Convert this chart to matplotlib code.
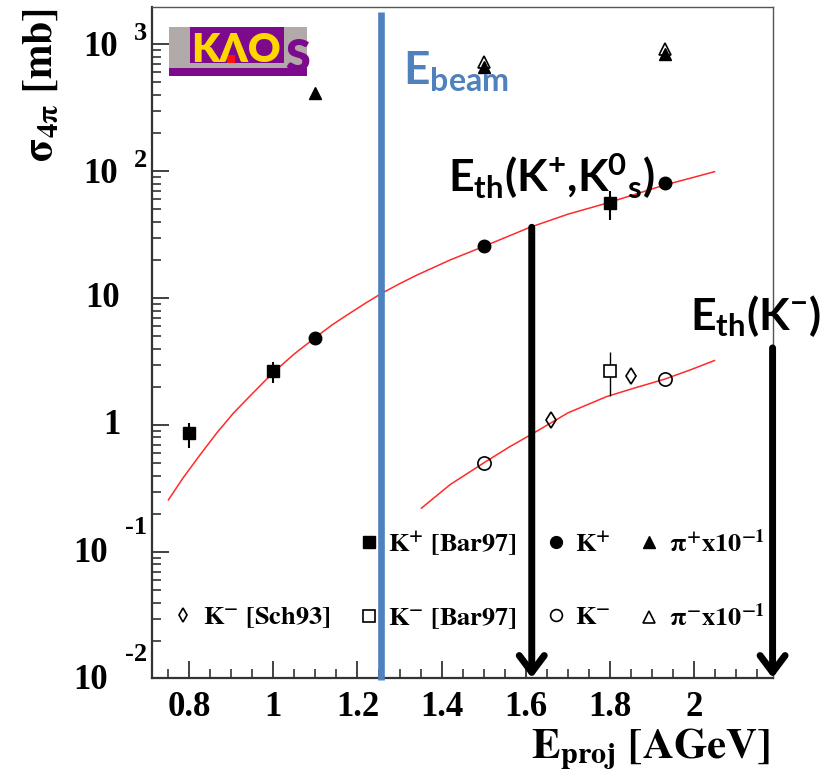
import matplotlib
matplotlib.use("Agg")
import matplotlib.pyplot as plt
from matplotlib.lines import Line2D
from matplotlib.patches import Rectangle
from matplotlib.font_manager import FontProperties
from matplotlib.ticker import MultipleLocator, LogLocator, NullFormatter

plt.rcParams["mathtext.fontset"] = "custom"
plt.rcParams["mathtext.rm"] = "Lato"
plt.rcParams["mathtext.bf"] = "Lato:bold"
plt.rcParams["mathtext.it"] = "Lato:italic"

# ---- measured cross sections [mb] vs projectile energy [AGeV] ----
kp_x = [1.1, 1.5, 1.93]
kp_y = [4.84, 25.9, 80.4]

kp_bar_x = [0.8, 1.0, 1.8]
kp_bar_y = [0.865, 2.69, 56.0]
kp_bar_lo = [0.66, 2.16, 41.4]
kp_bar_hi = [1.04, 3.17, 70.3]

km_x = [1.5, 1.93]
km_y = [0.50, 2.33]

km_sch_x = [1.66, 1.85]
km_sch_y = [1.09, 2.42]

km_bar_x = [1.8]
km_bar_y = [2.69]
km_bar_lo = [1.71]
km_bar_hi = [3.76]

pip_x = [1.1, 1.5, 1.93]
pip_y = [416, 667, 839]

pim_x = [1.5, 1.93]
pim_y = [730, 914]

# ---- fitted excitation functions ----
fit_kp_x = [0.751, 0.786, 0.826, 0.866, 0.905, 0.945, 1.0, 1.05, 1.103, 1.14,
            1.182, 1.22, 1.257, 1.30, 1.341, 1.42, 1.499, 1.610, 1.70, 1.792,
            1.86, 1.929, 1.99, 2.048]
fit_kp_y = [0.258, 0.385, 0.583, 0.869, 1.24, 1.70, 2.60, 3.64, 4.99, 6.17,
            7.62, 9.18, 10.9, 13.0, 15.2, 20.0, 25.5, 36.2, 45.9, 56.0,
            65.9, 77.8, 88.0, 99.2]

fit_km_x = [1.352, 1.42, 1.499, 1.56, 1.618, 1.70, 1.792, 1.86, 1.929, 1.99, 2.048]
fit_km_y = [0.222, 0.34, 0.502, 0.671, 0.865, 1.25, 1.68, 1.97, 2.30, 2.72, 3.23]

# ---- energy markers ----
e_beam = 1.257
e_th_kplus = 1.614
e_th_kplus_top = 36.2
e_th_kminus = 2.186
e_th_kminus_top = 4.06

x_ticks = [0.8, 1.0, 1.2, 1.4, 1.6, 1.8, 2.0]
x_tick_labels = ["0.8", "1", "1.2", "1.4", "1.6", "1.8", "2"]
y_exponents = [-2, -1, 0, 1, 2, 3]

W, H = 825, 780
fig = plt.figure(figsize=(W / 100, H / 100), dpi=100)
L, R, T, B = 152, 773, 7, 678
ax = fig.add_axes([L / W, 1 - B / H, (R - L) / W, (B - T) / H])

ax.set_yscale("log")
ax.set_xlim(0.712, 2.187)
ax.set_ylim(0.0102, 1966)

# frame
for s in ("left", "bottom"):
    ax.spines[s].set_color("#333333")
    ax.spines[s].set_linewidth(1.6)
for s in ("top", "right"):
    ax.spines[s].set_color("#555555")
    ax.spines[s].set_linewidth(1.0)

ax.xaxis.set_major_locator(MultipleLocator(0.2))
ax.xaxis.set_minor_locator(MultipleLocator(0.05))
ax.yaxis.set_major_locator(LogLocator(base=10, numticks=20))
ax.yaxis.set_minor_locator(LogLocator(base=10, subs=range(2, 10), numticks=20))
ax.yaxis.set_minor_formatter(NullFormatter())
ax.tick_params(which="both", direction="in", top=False, right=False,
               labelleft=False, labelbottom=False, color="#333333")
ax.tick_params(which="major", length=12, width=1.3)
ax.tick_params(which="minor", length=6.5, width=1.2)

serif = dict(family="Liberation Serif", weight="bold", color="black")

for v, lab in zip(x_ticks, x_tick_labels):
    ax.annotate(lab, xy=(v, 0), xycoords=("data", "axes fraction"),
                xytext=(0, -30), textcoords="offset pixels",
                ha="center", va="center", fontsize=25, **serif)

for e in y_exponents:
    v = 10.0 ** e
    if e == 0:
        ax.annotate("1", xy=(0, v), xycoords=("axes fraction", "data"),
                    xytext=(-32, 0), textcoords="offset pixels",
                    ha="right", va="center", fontsize=25, **serif)
    elif e == 1:
        ax.annotate("10", xy=(0, v), xycoords=("axes fraction", "data"),
                    xytext=(-32, 0), textcoords="offset pixels",
                    ha="right", va="center", fontsize=25, **serif)
    else:
        if e > 0:
            base_off, exp_off = (-34, -3), (-5, 11)
        else:
            base_off, exp_off = (-44, -1), (-5, 25)
        ax.annotate("10", xy=(0, v), xycoords=("axes fraction", "data"),
                    xytext=base_off, textcoords="offset pixels",
                    ha="right", va="center", fontsize=25, **serif)
        ax.annotate("%d" % e, xy=(0, v), xycoords=("axes fraction", "data"),
                    xytext=exp_off, textcoords="offset pixels",
                    ha="right", va="center", fontsize=19, **serif)

# fit curves
red = "#ff2a2a"
ax.plot(fit_kp_x, fit_kp_y, color=red, lw=1.1, zorder=2)
ax.plot(fit_km_x, fit_km_y, color=red, lw=1.1, zorder=2)

# data points
def asym(y, lo, hi):
    return [[a - b for a, b in zip(y, lo)], [c - a for a, c in zip(y, hi)]]

ax.errorbar(kp_bar_x, kp_bar_y, yerr=asym(kp_bar_y, kp_bar_lo, kp_bar_hi),
            fmt="s", ms=8.5, color="black", ecolor="black", elinewidth=1.5,
            capsize=0, zorder=4)
ax.errorbar(km_bar_x, km_bar_y, yerr=asym(km_bar_y, km_bar_lo, km_bar_hi),
            fmt="s", ms=9, mfc="white", mec="black", mew=1.2, ecolor="black",
            elinewidth=1.0, capsize=0, zorder=4)
ax.plot(kp_x, kp_y, "o", ms=9, color="black", zorder=4)
ax.plot(km_x, km_y, "o", ms=9.5, mfc="none", mec="black", mew=1.2, zorder=4)
ax.plot(km_sch_x, km_sch_y, "d", ms=8, mfc="none", mec="black", mew=1.2, zorder=4)
ax.plot(pim_x, pim_y, "^", ms=9, mfc="none", mec="black", mew=1.2, zorder=4)
ax.plot(pip_x, pip_y, "^", ms=9, color="black", zorder=5)

# legend
blank = Line2D([], [], ls="none", marker="None", label=" ")
h_sch = Line2D([], [], ls="none", marker="d", ms=7, mfc="none", mec="black", mew=1.2,
               label=r"$\mathbf{K^{-}\ [Sch93]}$")
h_kpb = Line2D([], [], ls="none", marker="s", ms=8, color="black",
               label=r"$\mathbf{K^{+}\ [Bar97]}$")
h_kmb = Line2D([], [], ls="none", marker="s", ms=8, mfc="white", mec="black", mew=1.2,
               label=r"$\mathbf{K^{-}\ [Bar97]}$")
h_kp = Line2D([], [], ls="none", marker="o", ms=8.5, color="black",
              label=r"$\mathbf{K^{+}}$")
h_km = Line2D([], [], ls="none", marker="o", ms=8.5, mfc="white", mec="black", mew=1.2,
              label=r"$\mathbf{K^{-}}$")
h_pip = Line2D([], [], ls="none", marker="^", ms=9, color="black",
               label=r"$\mathbf{π^{+}x10^{-1}}$")
h_pim = Line2D([], [], ls="none", marker="^", ms=9, mfc="white", mec="black", mew=1.2,
               label=r"$\mathbf{π^{-}x10^{-1}}$")
leg = ax.legend(handles=[blank, h_sch, h_kpb, h_kmb, h_kp, h_km, h_pip, h_pim],
                ncol=4, frameon=False, loc="upper left",
                bbox_to_anchor=(0.033, 0.221), borderpad=0, borderaxespad=0,
                handlelength=0.8, handletextpad=0.34, columnspacing=1.06,
                labelspacing=1.77,
                prop=FontProperties(size=19, math_fontfamily="stix"))
leg.set_zorder(3)

# beam energy and thresholds
ax.plot([e_beam, e_beam], [0.0099, 1795], color="#4f81bd", lw=4.8,
        solid_capstyle="butt", clip_on=False, zorder=8)
for xe, ytop in ((e_th_kplus, e_th_kplus_top), (e_th_kminus, e_th_kminus_top)):
    ax.annotate("", xy=(xe, 0.0102), xytext=(xe, ytop),
                arrowprops=dict(arrowstyle="->,head_length=0.6,head_width=0.45",
                                lw=5, color="black", shrinkA=0, shrinkB=0,
                                mutation_scale=20),
                annotation_clip=False, zorder=9)

def fx(px):
    return px / W

def fy(py):
    return 1 - py / H

fig.text(fx(403), fy(85), r"$\mathbf{E_{beam}}$", color="#4f81bd", fontsize=33,
         ha="left", va="baseline", math_fontfamily="custom", zorder=10)
fig.text(fx(448), fy(192), r"$\mathbf{E_{th}(K^{+}{,}K^{0}{}_{s})}$", color="black",
         fontsize=32, ha="left", va="baseline", math_fontfamily="custom", zorder=10)
fig.text(fx(690), fy(330), r"$\mathbf{E_{th}(K^{-})}$", color="black",
         fontsize=32, ha="left", va="baseline", math_fontfamily="custom", zorder=10)

# axis titles
fig.text(fx(40), fy(8), r"$\mathbf{σ_{4π}\ [mb]}$", rotation=90, fontsize=30,
         ha="center", va="top", math_fontfamily="stix")
fig.text(fx(770), fy(758), r"$\mathbf{E_{proj}\ [AGeV]}$", fontsize=31,
         ha="right", va="baseline", math_fontfamily="stix")

# KAOS logo
def frect(x0, y0, x1, y1, c):
    fig.add_artist(Rectangle((fx(x0), fy(y1)), (x1 - x0) / W, (y1 - y0) / H,
                             transform=fig.transFigure, color=c, lw=0, zorder=6))

frect(169, 27, 307, 69, "#b1aaa8")
frect(190, 27, 284, 63, "#7d0a8c")
frect(169, 68, 307, 76, "#7d0a8c")
fig.text(fx(236), fy(62), "KΛO", color="#ffd700", fontsize=29, family="Lato",
         weight="heavy", ha="center", va="baseline", zorder=7)
fig.text(fx(298), fy(71), "S", color="#7d0a8c", fontsize=32, family="Lato",
         weight="heavy", ha="center", va="baseline", zorder=7)
frect(227, 55, 235, 63, "#ff1010")

fig.savefig("out.png", dpi=100)
